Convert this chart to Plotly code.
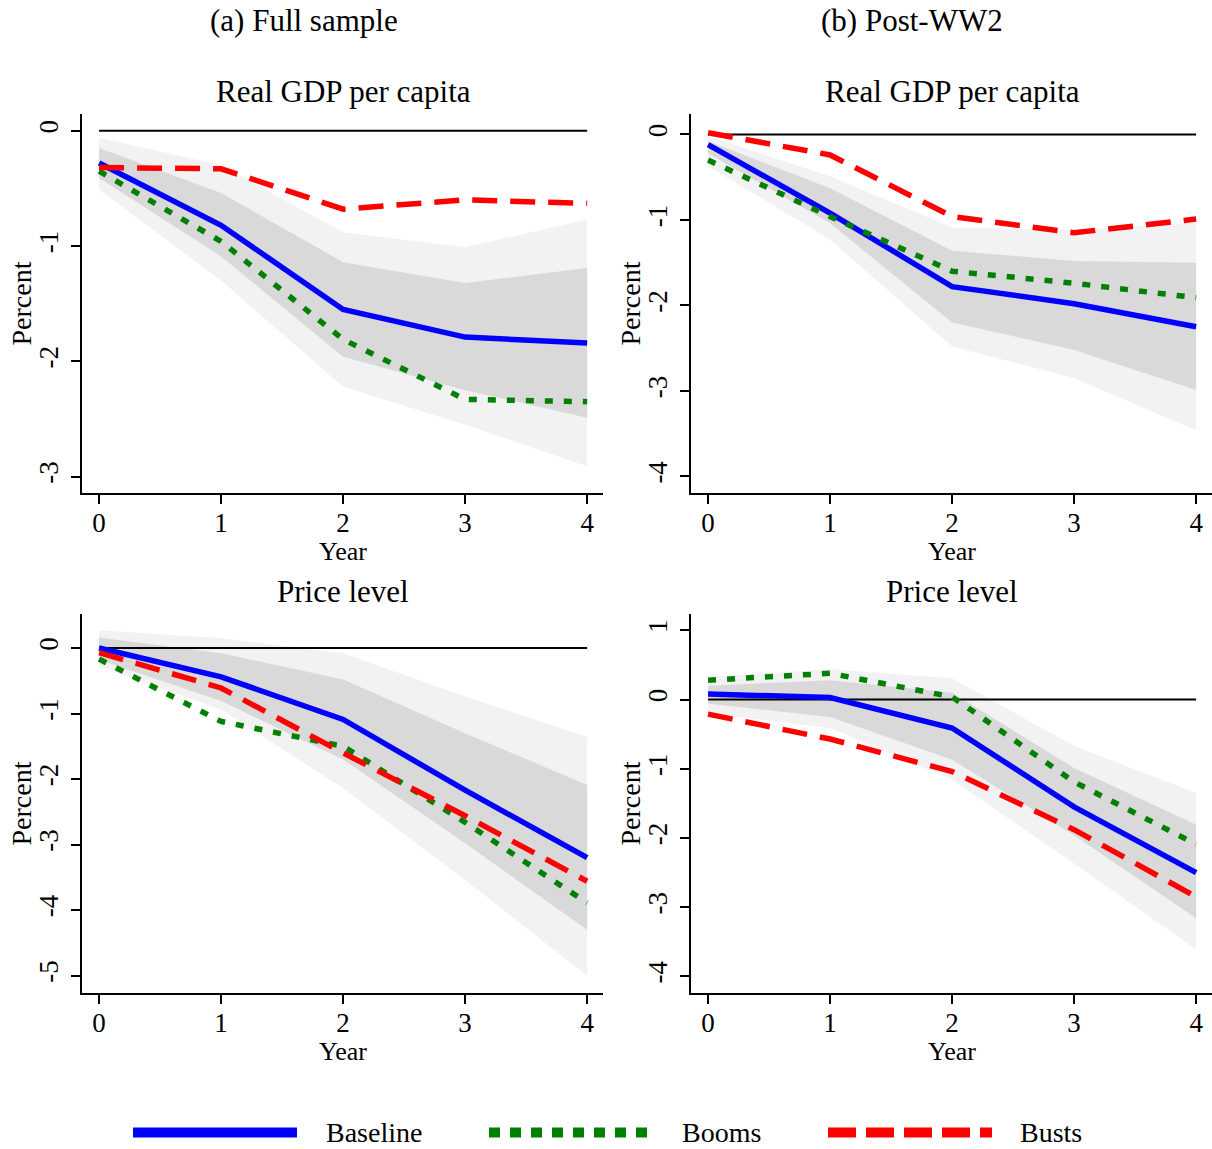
import plotly.graph_objects as go

years = [0, 1, 2, 3, 4]
series_names = ["Baseline", "Booms", "Busts"]

# (a) Full sample - Real GDP per capita
fs_gdp_base = [-0.28, -0.82, -1.55, -1.79, -1.84]
fs_gdp_boom = [-0.35, -0.96, -1.81, -2.33, -2.35]
fs_gdp_bust = [-0.32, -0.33, -0.68, -0.60, -0.63]
fs_gdp_hi90 = [-0.06, -0.30, -0.88, -1.01, -0.77]
fs_gdp_hi68 = [-0.15, -0.54, -1.14, -1.32, -1.19]
fs_gdp_lo68 = [-0.41, -1.09, -1.96, -2.25, -2.49]
fs_gdp_lo90 = [-0.51, -1.30, -2.22, -2.55, -2.91]

# (b) Post-WW2 - Real GDP per capita
pw_gdp_base = [-0.12, -0.92, -1.78, -1.98, -2.25]
pw_gdp_boom = [-0.30, -0.96, -1.60, -1.74, -1.91]
pw_gdp_bust = [0.02, -0.24, -0.96, -1.15, -0.99]
pw_gdp_hi90 = [-0.02, -0.49, -1.09, -1.12, -1.03]
pw_gdp_hi68 = [-0.08, -0.63, -1.36, -1.48, -1.50]
pw_gdp_lo68 = [-0.22, -1.04, -2.20, -2.52, -2.99]
pw_gdp_lo90 = [-0.37, -1.23, -2.48, -2.85, -3.46]

# (a) Full sample - Price level
fs_cpi_base = [0.00, -0.44, -1.09, -2.17, -3.20]
fs_cpi_boom = [-0.17, -1.12, -1.50, -2.66, -3.89]
fs_cpi_bust = [-0.07, -0.61, -1.60, -2.56, -3.56]
fs_cpi_hi90 = [0.27, 0.15, -0.08, -0.74, -1.36]
fs_cpi_hi68 = [0.16, -0.08, -0.48, -1.30, -2.09]
fs_cpi_lo68 = [-0.18, -0.81, -1.70, -2.98, -4.30]
fs_cpi_lo90 = [-0.28, -0.94, -2.14, -3.54, -5.00]

# (b) Post-WW2 - Price level
pw_cpi_base = [0.08, 0.03, -0.41, -1.55, -2.50]
pw_cpi_boom = [0.28, 0.38, 0.04, -1.19, -2.09]
pw_cpi_bust = [-0.21, -0.57, -1.04, -1.88, -2.85]
pw_cpi_hi90 = [0.33, 0.44, 0.31, -0.67, -1.35]
pw_cpi_hi68 = [0.20, 0.28, 0.10, -0.99, -1.81]
pw_cpi_lo68 = [-0.06, -0.25, -0.87, -1.96, -3.16]
pw_cpi_lo90 = [-0.20, -0.41, -1.16, -2.37, -3.61]

y_ticks_fs_gdp = [0, -1, -2, -3]
y_ticks_pw_gdp = [0, -1, -2, -3, -4]
y_ticks_fs_cpi = [0, -1, -2, -3, -4, -5]
y_ticks_pw_cpi = [1, 0, -1, -2, -3, -4]

panels = [
    dict(ax="", title="Real GDP per capita",
         base=fs_gdp_base, boom=fs_gdp_boom, bust=fs_gdp_bust,
         hi90=fs_gdp_hi90, hi68=fs_gdp_hi68, lo68=fs_gdp_lo68, lo90=fs_gdp_lo90,
         ticks=y_ticks_fs_gdp, yrange=[-3.142, 0.145]),
    dict(ax="2", title="Real GDP per capita",
         base=pw_gdp_base, boom=pw_gdp_boom, bust=pw_gdp_bust,
         hi90=pw_gdp_hi90, hi68=pw_gdp_hi68, lo68=pw_gdp_lo68, lo90=pw_gdp_lo90,
         ticks=y_ticks_pw_gdp, yrange=[-4.194, 0.239]),
    dict(ax="3", title="Price level",
         base=fs_cpi_base, boom=fs_cpi_boom, bust=fs_cpi_bust,
         hi90=fs_cpi_hi90, hi68=fs_cpi_hi68, lo68=fs_cpi_lo68, lo90=fs_cpi_lo90,
         ticks=y_ticks_fs_cpi, yrange=[-5.265, 0.519]),
    dict(ax="4", title="Price level",
         base=pw_cpi_base, boom=pw_cpi_boom, bust=pw_cpi_bust,
         hi90=pw_cpi_hi90, hi68=pw_cpi_hi68, lo68=pw_cpi_lo68, lo90=pw_cpi_lo90,
         ticks=y_ticks_pw_cpi, yrange=[-4.24, 1.237]),
]

W, H = 1212, 1149
FONT = "Liberation Serif"
BLUE, GREEN, RED = "#0000ff", "#008000", "#ff0000"
LIGHT, DARK = "#f2f2f2", "#d9d9d9"

x_domains = [[82 / W, 603 / W], [691 / W, 1.0]]
y_domains = [[1 - 493 / H, 1 - 114 / H], [1 - 993 / H, 1 - 614 / H]]
x_range = [-0.14, 4.13]

fig = go.Figure()

for p in panels:
    xa, ya = "x" + p["ax"], "y" + p["ax"]
    # confidence bands
    for lo, hi, col in [(p["lo90"], p["hi90"], LIGHT), (p["lo68"], p["hi68"], DARK)]:
        fig.add_trace(go.Scatter(
            x=years + years[::-1], y=hi + lo[::-1], fill="toself",
            fillcolor=col, line=dict(width=0), mode="lines",
            hoverinfo="skip", showlegend=False, xaxis=xa, yaxis=ya))
    # zero line
    fig.add_trace(go.Scatter(x=years, y=[0] * len(years), mode="lines",
                             line=dict(color="black", width=2),
                             showlegend=False, hoverinfo="skip", xaxis=xa, yaxis=ya))
    fig.add_trace(go.Scatter(x=years, y=p["base"], mode="lines", name=series_names[0],
                             line=dict(color=BLUE, width=5.5),
                             showlegend=False, xaxis=xa, yaxis=ya))
    fig.add_trace(go.Scatter(x=years, y=p["boom"], mode="lines", name=series_names[1],
                             line=dict(color=GREEN, width=5.5, dash="8px,11px"),
                             showlegend=False, xaxis=xa, yaxis=ya))
    fig.add_trace(go.Scatter(x=years, y=p["bust"], mode="lines", name=series_names[2],
                             line=dict(color=RED, width=5.5, dash="25px,13px"),
                             showlegend=False, xaxis=xa, yaxis=ya))

axis_common = dict(showline=True, linecolor="black", linewidth=1.5,
                   ticks="outside", ticklen=9, tickwidth=1.5, tickcolor="black",
                   showgrid=False, zeroline=False,
                   tickfont=dict(family=FONT, size=27, color="black"))

layout_axes = {}
for i, p in enumerate(panels):
    row, col = divmod(i, 2)
    xname = "xaxis" + p["ax"]
    yname = "yaxis" + p["ax"]
    layout_axes[xname] = dict(axis_common, domain=x_domains[col], range=x_range,
                              tickvals=years, ticktext=[str(v) for v in years],
                              ticklabelstandoff=-4, anchor="y" + p["ax"])
    layout_axes[yname] = dict(axis_common, domain=y_domains[row], range=p["yrange"],
                              tickvals=p["ticks"], ticktext=[str(v) for v in p["ticks"]],
                              tickangle=-90, ticklabelstandoff=2,
                              anchor="x" + p["ax"])

annotations = []
tfont = dict(family=FONT, size=31, color="black")
yfont = dict(family=FONT, size=26, color="black")
lfont = dict(family=FONT, size=28, color="black")
annotations.append(dict(text="(a) Full sample", x=304 / W, y=1 - 20 / H, xref="paper", yref="paper",
                        showarrow=False, font=tfont, xanchor="center", yanchor="middle"))
annotations.append(dict(text="(b) Post-WW2", x=912 / W, y=1 - 20 / H, xref="paper", yref="paper",
                        showarrow=False, font=tfont, xanchor="center", yanchor="middle"))
for i, p in enumerate(panels):
    row, col = divmod(i, 2)
    top = 114 + 500 * row
    annotations.append(dict(text=p["title"], x=2, xref="x" + p["ax"],
                            y=1 - (top - 23) / H, yref="paper", showarrow=False,
                            font=tfont, xanchor="center", yanchor="middle"))
    annotations.append(dict(text="Year", x=2, xref="x" + p["ax"],
                            y=1 - (top + 437) / H, yref="paper", showarrow=False,
                            font=yfont, xanchor="center", yanchor="middle"))
    annotations.append(dict(text="Percent", x=(21 + 609 * col) / W, xref="paper",
                            y=1 - (top + 189.5) / H, yref="paper", showarrow=False,
                            font=lfont, textangle=-90, xanchor="center", yanchor="middle"))

# legend (drawn manually so the key samples are as long as in the original)
leg_y = 1 - 1132.5 / H
legend_items = [
    (series_names[0], BLUE, "solid", 133, 297, 324),
    (series_names[1], GREEN, "11px,10px", 489, 652, 680),
    (series_names[2], RED, "28px,10px", 828, 992, 1018),
]
shapes = []
for name, colr, dash, x0, x1, tx in legend_items:
    shapes.append(dict(type="line", xref="paper", yref="paper", x0=x0 / W, x1=x1 / W,
                       y0=leg_y, y1=leg_y, line=dict(color=colr, width=10, dash=dash)))
    annotations.append(dict(text=name, x=tx / W, y=leg_y, xref="paper", yref="paper",
                            showarrow=False, font=lfont, xanchor="left", yanchor="middle"))

fig.update_layout(
    width=W, height=H, margin=dict(l=0, r=0, t=0, b=0),
    paper_bgcolor="white", plot_bgcolor="white",
    showlegend=False, annotations=annotations, shapes=shapes,
    font=dict(family=FONT, color="black"),
    **layout_axes,
)

fig.write_html("out.html")
